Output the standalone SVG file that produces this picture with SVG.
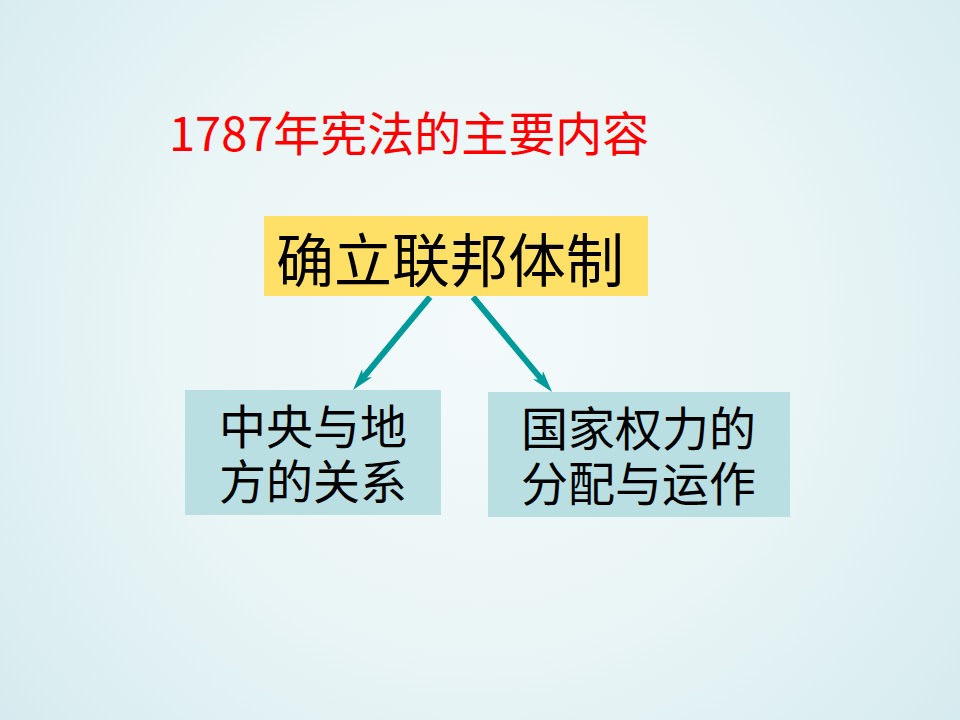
<svg xmlns="http://www.w3.org/2000/svg" width="960" height="720" viewBox="0 0 960 720">
<defs>
<radialGradient id="bg" cx="480" cy="330" r="620" gradientUnits="userSpaceOnUse">
<stop offset="0" stop-color="#F4FAFB"/>
<stop offset="0.5" stop-color="#EAF5F6"/>
<stop offset="1" stop-color="#D6EBEF"/>
</radialGradient>
<marker id="ah" viewBox="0 0 22 13" refX="6" refY="6.5" markerWidth="3.667" markerHeight="2.167" orient="auto" markerUnits="strokeWidth">
<path d="M0,0 L22,6.5 L0,13 L6,6.5 Z" fill="#009A9A"/>
</marker>
<style>
.cjk{font-family:"Noto Sans CJK SC","Liberation Sans",sans-serif;}
.box{fill:#B9DFE2;}
.lbl{font-size:47px;fill:#000;}
.conn{stroke:#009A9A;stroke-width:6;fill:none;marker-end:url(#ah);}
</style>
</defs>
<rect width="960" height="720" fill="url(#bg)"/>
<g id="title">
<text class="cjk" x="169" y="151" font-size="47" fill="#FF0000">1787年宪法的主要内容</text>
</g>
<g id="connectors">
<line class="conn" x1="430" y1="297" x2="363.2" y2="377.7"/>
<line class="conn" x1="473" y1="297" x2="541.8" y2="379.7"/>
</g>
<g id="node-root">
<rect x="264" y="216" width="384" height="80" fill="#FFE066"/>
<text class="cjk" x="276" y="282" font-size="58" fill="#000">确立联邦体制</text>
</g>
<g id="node-left">
<rect class="box" x="185" y="390" width="256" height="125"/>
<text class="cjk lbl" x="219" y="444">中央与地</text>
<text class="cjk lbl" x="219" y="499">方的关系</text>
</g>
<g id="node-right">
<rect class="box" x="488" y="392" width="302" height="125"/>
<text class="cjk lbl" x="521" y="446">国家权力的</text>
<text class="cjk lbl" x="521" y="501">分配与运作</text>
</g>
</svg>
